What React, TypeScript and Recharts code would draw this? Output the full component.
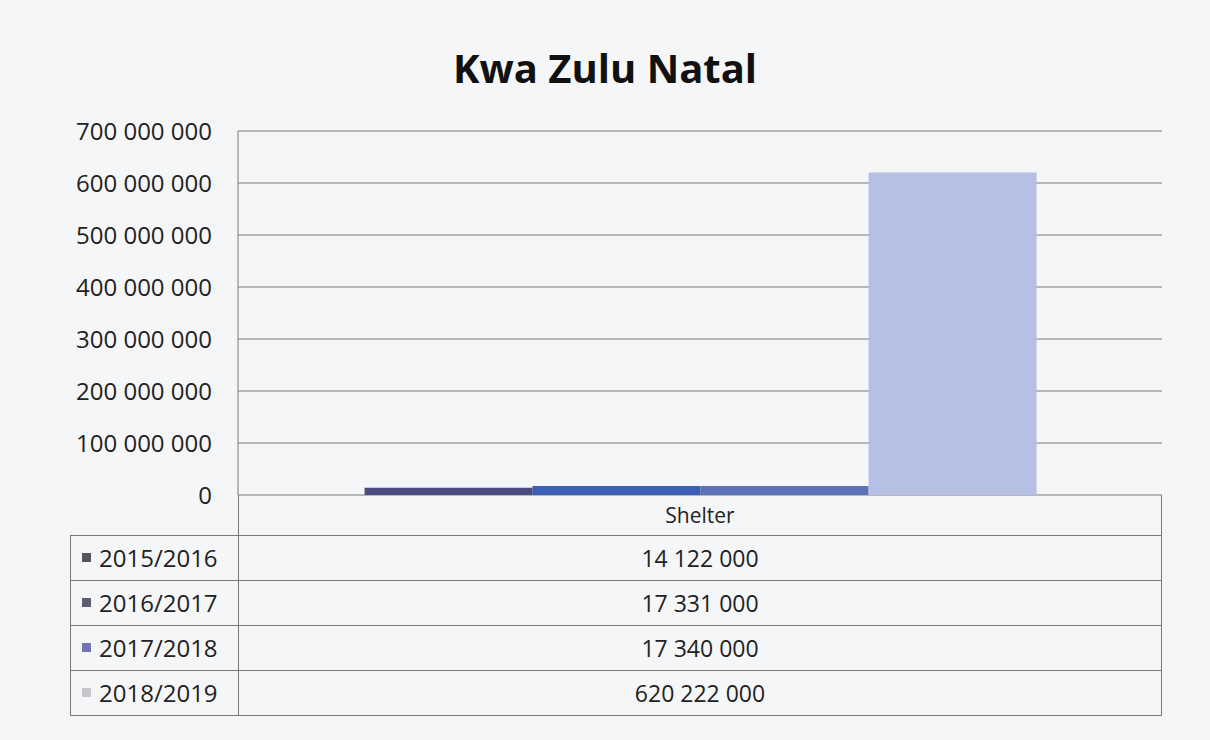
import { BarChart, Bar, XAxis, YAxis, CartesianGrid } from "recharts";

const CATEGORIES = ["Shelter"];
const SERIES = ["2015/2016", "2016/2017", "2017/2018", "2018/2019"];
const VALUES = [14122000, 17331000, 17340000, 620222000];
const Y_TICKS = [0, 100000000, 200000000, 300000000, 400000000, 500000000, 600000000, 700000000];

const BAR_COLORS = ["#4a4c80", "#3b5fb4", "#5b72b6", "#b6bfe4"];
const KEY_COLORS = ["#555560", "#5c5c72", "#7474b4", "#c6c6cc"];

const FONT = "'Open Sans', 'Noto Sans', sans-serif";
const LINE = "#7a7a7a";

// chart geometry (pixels)
const W = 1210;
const H = 740;
const PLOT_LEFT = 238;
const PLOT_RIGHT = 1162;
const PLOT_TOP = 131;
const PLOT_BOTTOM = 495;
const TABLE_LEFT = 70;
const HEADER_H = 40;
const ROW_H = 45;
const FS = 23;

function fmt(v: number) {
  return String(v).replace(/\B(?=(\d{3})+(?!\d))/g, " ");
}

const chartData = CATEGORIES.map((name) => {
  const row: Record<string, string | number> = { name };
  SERIES.forEach((s, i) => {
    row[s] = VALUES[i];
  });
  return row;
});

export default function App() {
  const rowsTop = PLOT_BOTTOM + HEADER_H;
  const tableBottom = rowsTop + SERIES.length * ROW_H;

  return (
    <div
      style={{
        position: "absolute",
        left: 0,
        top: 0,
        width: W,
        height: H,
        background: "#f5f6f8",
        fontFamily: FONT,
        color: "#222",
      }}
    >
      <div
        style={{
          position: "absolute",
          left: 0,
          width: W,
          top: 40,
          textAlign: "center",
          fontSize: 40,
          lineHeight: "56px",
          fontWeight: 700,
          color: "#111",
        }}
      >
        Kwa Zulu Natal
      </div>

      <BarChart
        width={W}
        height={H}
        data={chartData}
        margin={{ top: PLOT_TOP, right: W - PLOT_RIGHT, bottom: H - PLOT_BOTTOM, left: 20 }}
        barCategoryGap="13.7%"
        barGap={0}
        style={{ position: "absolute", left: 0, top: 0 }}
      >
        <CartesianGrid horizontal vertical={false} stroke={LINE} strokeWidth={1} />
        <XAxis dataKey="name" hide />
        <YAxis
          width={PLOT_LEFT - 20}
          domain={[0, 700000000]}
          ticks={Y_TICKS}
          tickFormatter={fmt}
          tickLine={false}
          tickMargin={20}
          axisLine={{ stroke: LINE }}
          tick={{ fontSize: 24, fill: "#222", fontFamily: FONT }}
        />
        {SERIES.map((s, i) => (
          <Bar key={s} dataKey={s} fill={BAR_COLORS[i]} isAnimationActive={false} />
        ))}
      </BarChart>

      {/* data table under the plot */}
      <div
        style={{
          position: "absolute",
          left: PLOT_LEFT,
          top: PLOT_BOTTOM,
          width: PLOT_RIGHT - PLOT_LEFT,
          height: HEADER_H,
          display: "flex",
          alignItems: "center",
          justifyContent: "center",
          fontSize: FS - 2,
        }}
      >
        {CATEGORIES[0]}
      </div>
      {SERIES.map((s, i) => (
        <div
          key={s}
          style={{
            position: "absolute",
            left: TABLE_LEFT,
            top: rowsTop + i * ROW_H,
            width: PLOT_RIGHT - TABLE_LEFT,
            height: ROW_H,
            display: "flex",
            fontSize: FS,
          }}
        >
          <div
            style={{
              width: PLOT_LEFT - TABLE_LEFT,
              display: "flex",
              alignItems: "center",
              paddingLeft: 12,
              boxSizing: "border-box",
              fontSize: 24,
            }}
          >
            <span
              style={{
                display: "inline-block",
                width: 9,
                height: 9,
                background: KEY_COLORS[i],
                marginRight: 8,
              }}
            />
            {s}
          </div>
          <div style={{ flex: 1, display: "flex", alignItems: "center", justifyContent: "center" }}>
            {fmt(VALUES[i])}
          </div>
        </div>
      ))}
      <svg
        width={W}
        height={H}
        style={{ position: "absolute", left: 0, top: 0, pointerEvents: "none" }}
      >
        {SERIES.map((s, i) => (
          <line
            key={s}
            x1={TABLE_LEFT}
            x2={PLOT_RIGHT}
            y1={rowsTop + i * ROW_H + 0.5}
            y2={rowsTop + i * ROW_H + 0.5}
            stroke={LINE}
          />
        ))}
        <line x1={TABLE_LEFT} x2={PLOT_RIGHT} y1={tableBottom + 0.5} y2={tableBottom + 0.5} stroke={LINE} />
        <line x1={TABLE_LEFT + 0.5} x2={TABLE_LEFT + 0.5} y1={rowsTop} y2={tableBottom} stroke={LINE} />
        <line x1={PLOT_LEFT + 0.5} x2={PLOT_LEFT + 0.5} y1={PLOT_BOTTOM} y2={tableBottom} stroke={LINE} />
        <line x1={PLOT_RIGHT - 0.5} x2={PLOT_RIGHT - 0.5} y1={PLOT_BOTTOM} y2={tableBottom} stroke={LINE} />
      </svg>
    </div>
  );
}
